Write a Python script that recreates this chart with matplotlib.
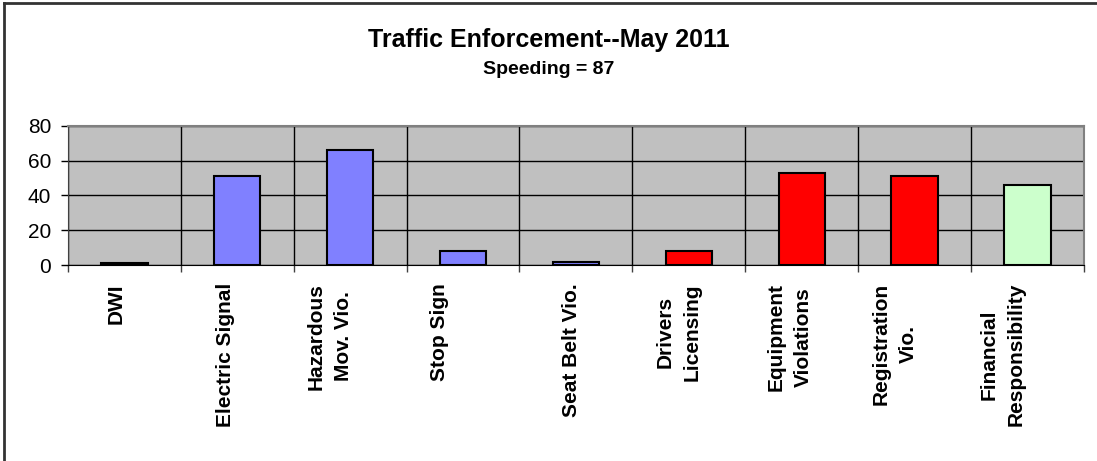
#!/usr/bin/env python3
"""
Traffic enforcement bar chart, May 2011
"""

import matplotlib
matplotlib.use('Agg')
import matplotlib.pyplot as plt
from matplotlib.lines import Line2D
from matplotlib.transforms import ScaledTranslation

CATEGORIES = ['DWI', 'Electric Signal', 'Hazardous\nMov. Vio.', 'Stop Sign',
              'Seat Belt Vio.', 'Drivers\nLicensing', 'Equipment\nViolations',
              'Registration\nVio.', 'Financial\nResponsibility']
COUNTS = [1, 51, 66, 8, 2, 8, 53, 51, 46]
BAR_COLORS = ['#8080FF', '#8080FF', '#8080FF', '#8080FF', '#8080FF',
              '#FF0000', '#FF0000', '#FF0000', '#CCFFCC']
Y_TICKS = [0, 20, 40, 60, 80]

TITLE = 'Traffic Enforcement--May 2011'
SUBTITLE = 'Speeding = 87'

# the labels in the original sit a little left of the category centres (pixels)
LABEL_SHIFT_PX = [-8, -12, -20, -24, -4, -10, -12, -20, -25]


def main():
    plt.rcParams['font.family'] = ['Liberation Sans', 'DejaVu Sans']

    fig = plt.figure(figsize=(10.97, 4.61), dpi=100)
    ax = fig.add_axes([0.062, 0.425, 0.926, 0.302])

    # frame lines on the top and left of the chart only
    fig.lines.append(Line2D([0.0035, 0.0035], [0.0, 0.9925], transform=fig.transFigure,
                            color='#333333', linewidth=2))
    fig.lines.append(Line2D([0.0035, 1.0], [0.9925, 0.9925], transform=fig.transFigure,
                            color='#333333', linewidth=2))

    positions = range(len(CATEGORIES))
    ax.set_facecolor('#C0C0C0')
    ax.bar(positions, COUNTS, width=0.41, color=BAR_COLORS,
           edgecolor='black', linewidth=1.5, zorder=3)

    ax.set_xlim(-0.5, len(CATEGORIES) - 0.5)
    ax.set_ylim(0, 80)
    ax.set_yticks(Y_TICKS)
    ax.set_yticklabels([str(t) for t in Y_TICKS], fontsize=15)

    # category labels drawn as text below the axis so they can be nudged
    ax.set_xticks([])
    ax.set_xticks([p - 0.5 for p in range(len(CATEGORIES) + 1)], minor=True)
    for pos, name, shift in zip(positions, CATEGORIES, LABEL_SHIFT_PX):
        offset = ScaledTranslation(shift / 100, -0.18, fig.dpi_scale_trans)
        ax.text(pos, 0, name, transform=ax.get_xaxis_transform() + offset,
                rotation=90, fontsize=15, fontweight='bold', va='top', ha='center',
                multialignment='center', linespacing=1.55)

    ax.tick_params(axis='x', which='minor', length=5, width=1, color='#404040')
    ax.tick_params(axis='y', length=5, width=1, pad=7)

    ax.grid(axis='y', which='major', color='black', linewidth=1, zorder=1)
    ax.grid(axis='x', which='minor', color='black', linewidth=1, zorder=1)
    ax.set_axisbelow(True)

    for side in ['top', 'right']:
        ax.spines[side].set_color('#808080')
        ax.spines[side].set_linewidth(1.5)
    ax.spines['left'].set_color('#404040')
    ax.spines['bottom'].set_color('black')

    fig.text(0.5, 0.913, TITLE, ha='center', va='center', fontsize=18, fontweight='bold')
    fig.text(0.5, 0.85, SUBTITLE, ha='center', va='center', fontsize=14, fontweight='bold')

    fig.savefig('out.png', dpi=100)


if __name__ == '__main__':
    main()
